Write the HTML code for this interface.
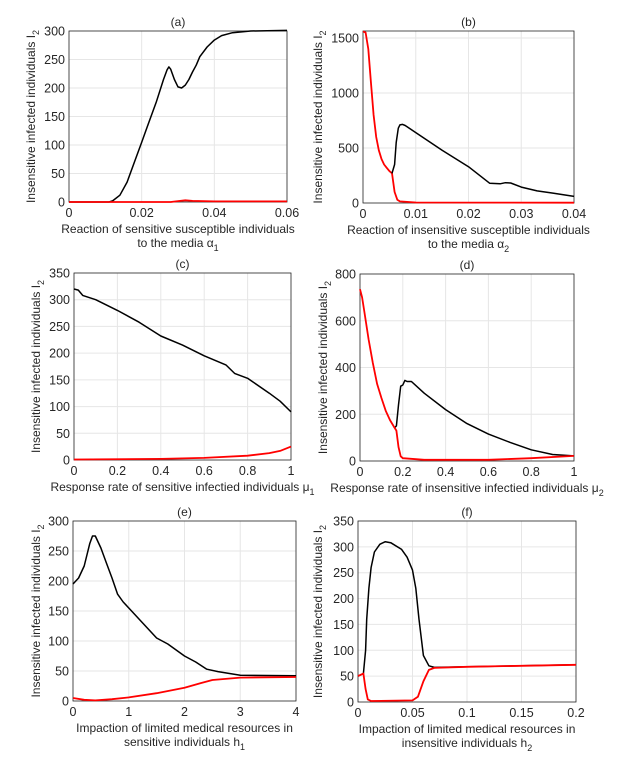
<!DOCTYPE html>
<html><head><meta charset="utf-8"><style>
html,body{margin:0;padding:0;background:#fff;}
svg text{font-family:"Liberation Sans",Arial,sans-serif;fill:#262626;}
</style></head><body>
<svg id="fig" width="623" height="759" xmlns="http://www.w3.org/2000/svg"></svg>
<script>
// Panel (a)
const aX=[0,0.011,0.012,0.014,0.016,0.018,0.02,0.022,0.024,0.026,0.027,0.0275,0.028,0.029,0.030,0.031,0.032,0.033,0.034,0.035,0.036,0.038,0.04,0.042,0.045,0.05,0.06];
const aBlack=[0,0,2,12,35,70,105,140,175,215,232,237,233,215,202,200,205,215,228,240,255,272,284,292,297,300,301];
const aRedX=[0,0.028,0.030,0.032,0.034,0.04,0.06];
const aRed=[0,0,1.5,3,2,1,1];
// Panel (b)
const bRedX=[0,0.0005,0.001,0.0015,0.002,0.0025,0.003,0.0035,0.004,0.0045,0.005,0.0055,0.006,0.0065,0.007,0.01,0.04];
const bRed=[1560,1550,1400,1100,800,600,480,400,350,320,290,270,100,30,15,5,3];
const bBlackX=[0.0055,0.006,0.0063,0.0067,0.007,0.0075,0.008,0.01,0.015,0.02,0.024,0.026,0.027,0.028,0.03,0.033,0.036,0.04];
const bBlack=[270,350,550,680,710,715,705,640,480,330,180,175,185,182,145,110,90,60];
// Panel (c)
const cX=[0,0.02,0.04,0.1,0.2,0.3,0.4,0.5,0.6,0.7,0.74,0.8,0.9,0.95,1];
const cBlack=[320,318,308,300,280,258,232,215,195,178,162,153,125,110,90];
const cRedX=[0,0.4,0.6,0.8,0.9,0.95,1];
const cRed=[1,2,4,8,13,17,25];
// Panel (d)
const dRedX=[0,0.01,0.02,0.04,0.06,0.08,0.1,0.12,0.14,0.16,0.17,0.18,0.19,0.2,0.3,0.6,0.8,1];
const dRed=[735,700,640,520,420,330,270,215,175,145,130,60,20,12,5,5,12,22];
const dBlackX=[0.16,0.17,0.18,0.19,0.2,0.21,0.22,0.24,0.3,0.4,0.5,0.6,0.7,0.8,0.9,1];
const dBlack=[140,150,240,320,325,345,340,340,290,220,160,115,80,48,28,22];
// Panel (e)
const eX=[0,0.1,0.2,0.3,0.35,0.4,0.5,0.6,0.7,0.8,0.9,1,1.2,1.5,1.7,2,2.2,2.4,2.6,3,4];
const eBlack=[195,205,225,262,275,275,255,230,205,178,165,155,135,105,95,75,65,53,49,43,42];
const eRedX=[0,0.2,0.4,0.7,1,1.5,2,2.3,2.5,3,4];
const eRed=[5,2,1,3,6,13,22,30,35,39,40];
// Panel (f)
const fX=[0,0.005,0.007,0.008,0.01,0.012,0.015,0.02,0.025,0.03,0.04,0.045,0.05,0.053,0.056,0.06,0.065,0.07,0.1,0.2];
const fBlack=[50,55,100,160,220,260,290,305,310,308,295,280,255,220,160,90,70,67,68,72];
const fRedX=[0,0.005,0.007,0.009,0.012,0.05,0.055,0.06,0.065,0.07,0.1,0.2];
const fRed=[50,55,25,5,2,3,10,40,62,66,68,72];

const NS="http://www.w3.org/2000/svg";
const svg=document.getElementById('fig');
function mk(tag,attrs,parent){const e=document.createElementNS(NS,tag);for(const k in attrs)e.setAttribute(k,attrs[k]);(parent||svg).appendChild(e);return e;}

const panels=[
 {id:'a',L:69,R:287,T:31,B:202,xmax:0.06,ymax:300,xt:[0,0.02,0.04,0.06],yt:[0,50,100,150,200,250,300],ylx:35,
  xl:['Reaction of sensitive susceptible individuals','to the media α','1'],series:[[aX,aBlack,'#000'],[aRedX,aRed,'#f00']]},
 {id:'b',L:363,R:574,T:31,B:203,xmax:0.04,ymax:1564,xt:[0,0.01,0.02,0.03,0.04],yt:[0,500,1000,1500],ylx:322,
  xl:['Reaction of insensitive susceptible individuals','to the media α','2'],series:[[bRedX,bRed,'#f00'],[bBlackX,bBlack,'#000']]},
 {id:'c',L:74,R:291,T:273,B:460,xmax:1,ymax:350,xt:[0,0.2,0.4,0.6,0.8,1],yt:[0,50,100,150,200,250,300,350],ylx:40,
  xl:['Response rate of sensitive infectied individuals μ','','1'],series:[[cX,cBlack,'#000'],[cRedX,cRed,'#f00']]},
 {id:'d',L:360,R:574,T:274,B:461,xmax:1,ymax:800,xt:[0,0.2,0.4,0.6,0.8,1],yt:[0,200,400,600,800],ylx:327,
  xl:['Response rate of insensitive infectied individuals μ','','2'],series:[[dBlackX,dBlack,'#000'],[dRedX,dRed,'#f00']]},
 {id:'e',L:73,R:296,T:521,B:701,xmax:4,ymax:300,xt:[0,1,2,3,4],yt:[0,50,100,150,200,250,300],ylx:40,
  xl:['Impaction of limited medical resources in','sensitive individuals h','1'],series:[[eX,eBlack,'#000'],[eRedX,eRed,'#f00']]},
 {id:'f',L:358,R:576,T:521,B:702,xmax:0.2,ymax:350,xt:[0,0.05,0.1,0.15,0.2],yt:[0,50,100,150,200,250,300,350],ylx:322,
  xl:['Impaction of limited medical resources in','insensitive individuals h','2'],series:[[fX,fBlack,'#000'],[fRedX,fRed,'#f00']]}
];

panels.forEach(p=>{
 const g=mk('g',{});
 
 
 const sx=v=>p.L+v/p.xmax*(p.R-p.L);
 const sy=v=>p.B-v/p.ymax*(p.B-p.T);
 p.xt.forEach(t=>{
  const x=sx(t);
  const gl=mk('line',{x1:x,x2:x,y1:p.T,y2:p.B,stroke:'#e6e6e6','stroke-width':1},g);
  
  
  const tl=mk('text',{x:x,y:p.B+15,'font-size':12.5,'text-anchor':'middle'},g);
  tl.textContent=String(t);
  
  
 });
 p.yt.forEach(t=>{
  const y=sy(t);
  const gl=mk('line',{x1:p.L,x2:p.R,y1:y,y2:y,stroke:'#e6e6e6','stroke-width':1},g);
  
  
  const tl=mk('text',{x:p.L-4,y:y+4.5,'font-size':12.5,'text-anchor':'end'},g);
  tl.textContent=String(t);
  
  
 });
 const box=mk('rect',{x:p.L,y:p.T,width:p.R-p.L,height:p.B-p.T,fill:'none',stroke:'#262626','stroke-width':0.8},g);
 
 
 const tt=mk('text',{x:(p.L+p.R)/2,y:p.T-5,'font-size':12,'text-anchor':'middle'},g);
 tt.textContent='('+p.id+')';
 
 
 const cy=(p.T+p.B)/2;
 const yl=mk('text',{x:p.ylx,y:cy,'font-size':12,'text-anchor':'middle',transform:'rotate(-90 '+p.ylx+' '+cy+')'},g);
 yl.innerHTML='Insensitive infected individuals I<tspan font-size="9" dy="4">2</tspan>';
 
 
 const cx=(p.L+p.R)/2;
 const x1=mk('text',{x:cx,y:p.B+31,'font-size':12,'text-anchor':'middle'},g);
 if(p.xl[1]===''){x1.innerHTML=p.xl[0]+'<tspan font-size="9" dy="4">'+p.xl[2]+'</tspan>';}
 else{x1.textContent=p.xl[0];
  const x2=mk('text',{x:cx,y:p.B+45,'font-size':12,'text-anchor':'middle'},g);
  x2.innerHTML=p.xl[1]+'<tspan font-size="9" dy="4">'+p.xl[2]+'</tspan>';
  
  }
 
 
 p.series.forEach(s=>{
  const pts=s[0].map((v,i)=>sx(v).toFixed(1)+','+sy(s[1][i]).toFixed(1)).join(' ');
  const pl=mk('polyline',{points:pts,fill:'none',stroke:s[2],'stroke-width':s[2]==='#f00'?1.8:1.5,'stroke-linejoin':'round'},g);
  
  
 });
});
</script>
</body></html>
